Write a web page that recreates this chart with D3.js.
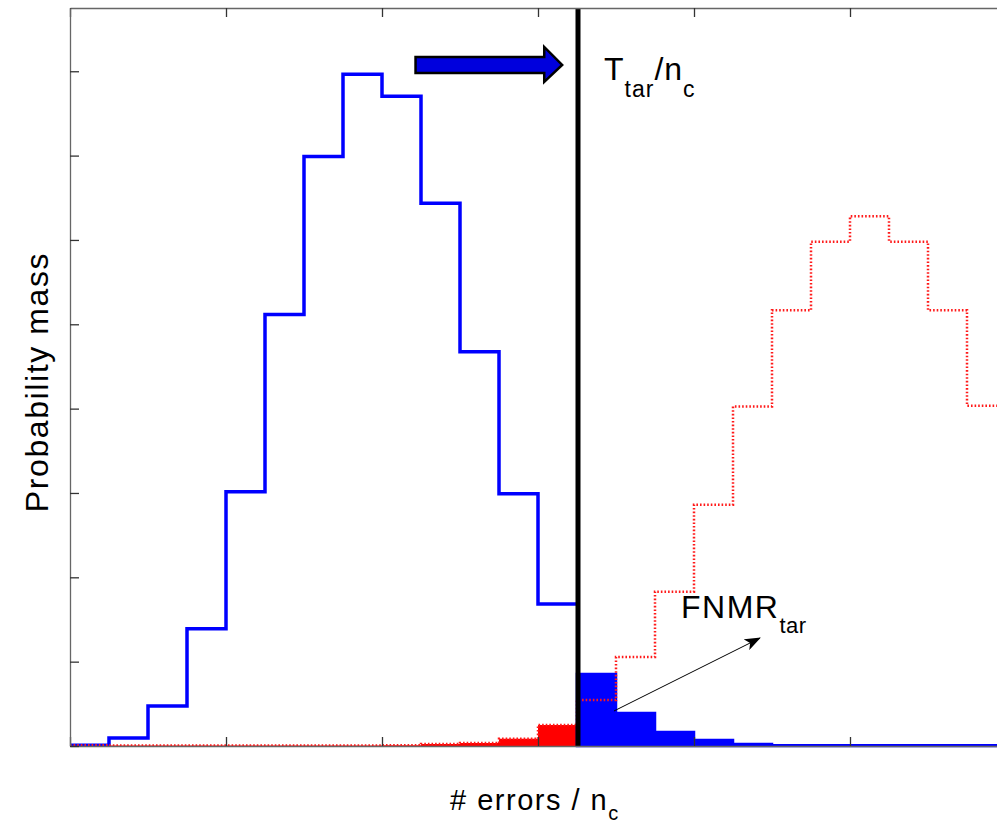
<!DOCTYPE html>
<html>
<head>
<meta charset="utf-8">
<script src="https://cdn.jsdelivr.net/npm/d3@7"></script>
<style>
  body { margin: 0; background: #fff; }
  svg { display: block; font-family: Arial, "Liberation Sans", Helvetica, sans-serif; }
</style>
</head>
<body>
<svg width="997" height="824"></svg>
<script>

// lower edge of each histogram bin (# errors / n_c)
const bin_start = [0.000, 0.025, 0.050, 0.075, 0.100, 0.125, 0.150, 0.175,
                   0.200, 0.225, 0.250, 0.275, 0.300, 0.325, 0.350, 0.375,
                   0.400, 0.425, 0.450, 0.475, 0.500, 0.525, 0.550, 0.575];

// genuine comparisons (blue)
const genuine = [0.0002, 0.0019, 0.0095, 0.0278, 0.0603, 0.1023, 0.1398, 0.1593,
                 0.1541, 0.1287, 0.0935, 0.0598, 0.0337, 0.0171, 0.0078, 0.0033,
                 0.0014, 0.0005, 0.0002, 0.0002, 0.0002, 0.0002, 0.0002, 0.0002];

// impostor comparisons (red, dotted)
const impostor = [0.0002, 0.0001, 0.0001, 0.0001, 0.0001, 0.0001, 0.0001, 0.0001,
                  0.0002, 0.0005, 0.0007, 0.0017, 0.0050, 0.0109, 0.0211, 0.0366,
                  0.0572, 0.0805, 0.1033, 0.1196, 0.1256, 0.1196, 0.1033, 0.0807];

const threshold = 0.325;
const bin_width = 0.025;

const x_ticks = [0, 0.1, 0.2, 0.3, 0.4, 0.5, 0.6];
const y_ticks = [0, 0.02, 0.04, 0.06, 0.08, 0.10, 0.12, 0.14, 0.16];

const vis = {

    params : {
        left: 70,
        right: 1006,
        top: 8,
        bottom: 746,
        x_max: 0.6,
        y_max: 0.175
    },

    refs : {
        svg : "svg"
    },

    draw : {

        components : {

            scales : {
                x : null,
                y : null
            },

            // step points, one per bin plus the closing edge
            steps : function(values, from, to) {

                const pts = [];

                bin_start.forEach((x0, i) => {
                    const x1 = x0 + bin_width;
                    if (x1 <= from + 1e-9 || x0 >= to - 1e-9) return;
                    pts.push({ x : Math.max(x0, from), v : values[i] });
                });

                pts.push({ x : to, v : pts[pts.length - 1].v });

                return pts;

            }

        },

        cria_escalas : function() {

            const p = vis.params;

            this.components.scales.x = d3.scaleLinear()
              .domain([0, p.x_max])
              .range([p.left, p.right]);

            this.components.scales.y = d3.scaleLinear()
              .domain([0, p.y_max])
              .range([p.bottom, p.top]);

        },

        desenha_eixos : function() {

            const svg = d3.select(vis.refs.svg);
            const x = this.components.scales.x;
            const y = this.components.scales.y;
            const p = vis.params;

            const g = svg.append("g").attr("class", "axes");

            g.append("g")
              .attr("transform", `translate(0,${p.bottom})`)
              .call(d3.axisBottom(x).tickValues(x_ticks).tickFormat("").tickSize(-9).tickSizeOuter(0));

            g.append("g")
              .attr("transform", `translate(0,${p.top})`)
              .call(d3.axisTop(x).tickValues(x_ticks).tickFormat("").tickSize(-9).tickSizeOuter(0));

            g.append("g")
              .attr("transform", `translate(${p.left},0)`)
              .call(d3.axisLeft(y).tickValues(y_ticks).tickFormat("").tickSize(-9).tickSizeOuter(0));

            g.selectAll(".domain").attr("stroke", "#666").attr("stroke-width", 1.3);
            g.selectAll(".tick line").attr("stroke", "#333").attr("stroke-width", 1.3);

        },

        desenha_histogramas : function() {

            const svg = d3.select(vis.refs.svg);
            const x = this.components.scales.x;
            const y = this.components.scales.y;
            const steps = this.components.steps;

            const area = d3.area()
              .curve(d3.curveStepAfter)
              .x(d => x(d.x))
              .y0(y(0))
              .y1(d => y(d.v));

            const line = d3.line()
              .curve(d3.curveStepAfter)
              .x(d => x(d.x))
              .y(d => y(d.v));

            // false match region (red fill left of threshold)
            svg.append("path")
              .datum(steps(impostor, 0, threshold))
              .attr("d", area)
              .attr("fill", "#ff0000");

            // false non-match region (blue fill right of threshold)
            svg.append("path")
              .datum(steps(genuine, threshold, vis.params.x_max))
              .attr("d", area)
              .attr("fill", "#0000ff")
              .attr("stroke", "#0000ff")
              .attr("stroke-width", 2.5);

            // genuine outline
            svg.append("path")
              .datum(steps(genuine, 0, threshold))
              .attr("d", line)
              .attr("fill", "none")
              .attr("stroke", "#0000ff")
              .attr("stroke-width", 3.5);

            // impostor outline
            svg.append("path")
              .datum(steps(impostor, 0, vis.params.x_max))
              .attr("d", line)
              .attr("fill", "none")
              .attr("stroke", "#ff1a1a")
              .attr("stroke-width", 2.5)
              .attr("stroke-dasharray", "1.6,2");

            // threshold
            svg.append("line")
              .attr("x1", x(threshold) + 1)
              .attr("x2", x(threshold) + 1)
              .attr("y1", y(vis.params.y_max))
              .attr("y2", y(0))
              .attr("stroke", "#000")
              .attr("stroke-width", 5);

        },

        desenha_anotacoes : function() {

            const svg = d3.select(vis.refs.svg);
            const x = this.components.scales.x;
            const y = this.components.scales.y;

            // block arrow pointing at the threshold
            const ax0 = x(0.2215), ax1 = x(0.3155), ahead = x(0.3040);
            const ay = y(0.1615);

            const seta = [
                [ax0, ay - 8], [ahead, ay - 8], [ahead, ay - 18], [ax1, ay],
                [ahead, ay + 17], [ahead, ay + 8], [ax0, ay + 8]
            ];

            svg.append("polygon")
              .attr("points", seta.map(d => d.join(",")).join(" "))
              .attr("fill", "#0000dd")
              .attr("stroke", "#000")
              .attr("stroke-width", 2.5)
              .attr("stroke-linejoin", "miter");

            // thin arrow to FNMR
            const defs = svg.append("defs");
            defs.append("marker")
              .attr("id", "ponta")
              .attr("viewBox", "0 0 16 12")
              .attr("refX", 15)
              .attr("refY", 6)
              .attr("markerWidth", 16)
              .attr("markerHeight", 12)
              .attr("markerUnits", "userSpaceOnUse")
              .attr("orient", "auto")
              .append("path")
              .attr("d", "M0,0 L16,6 L0,12 L4,6 Z")
              .attr("fill", "#000");

            svg.append("line")
              .attr("x1", x(0.3487))
              .attr("y1", y(0.0083))
              .attr("x2", x(0.4423))
              .attr("y2", y(0.0256))
              .attr("stroke", "#000")
              .attr("stroke-width", 1)
              .attr("marker-end", "url(#ponta)");

            // labels
            const t = svg.append("text")
              .attr("x", x(0.3423))
              .attr("y", y(0.1579))
              .attr("font-size", 32)
              .attr("letter-spacing", 1)
              .attr("fill", "#000");
            t.append("tspan").text("T");
            t.append("tspan").attr("font-size", 23).attr("dy", 17).text("tar");
            t.append("tspan").attr("dy", -17).text("/n");
            t.append("tspan").attr("font-size", 23).attr("dy", 17).text("c");

            const f = svg.append("text")
              .attr("x", x(0.3917))
              .attr("y", y(0.0304))
              .attr("font-size", 32)
              .attr("letter-spacing", 1.5)
              .attr("fill", "#000");
            f.append("tspan").text("FNMR");
            f.append("tspan").attr("font-size", 22).attr("letter-spacing", 0.5).attr("dy", 15).text("tar");

            const xl = svg.append("text")
              .attr("x", 450)
              .attr("y", 810)
              .attr("font-size", 29)
              .attr("letter-spacing", 1.5)
              .attr("fill", "#000");
            xl.append("tspan").text("# errors / n");
            xl.append("tspan").attr("font-size", 20).attr("dy", 10).text("c");

            svg.append("text")
              .attr("transform", "translate(48,382) rotate(-90)")
              .attr("text-anchor", "middle")
              .attr("font-size", 32)
              .attr("letter-spacing", 1.6)
              .attr("fill", "#000")
              .text("Probability mass");

        }

    },

    control : {

        init : function() {

            vis.draw.cria_escalas();
            vis.draw.desenha_histogramas();
            vis.draw.desenha_eixos();
            vis.draw.desenha_anotacoes();

        }

    }

}

vis.control.init();
</script>
</body>
</html>
